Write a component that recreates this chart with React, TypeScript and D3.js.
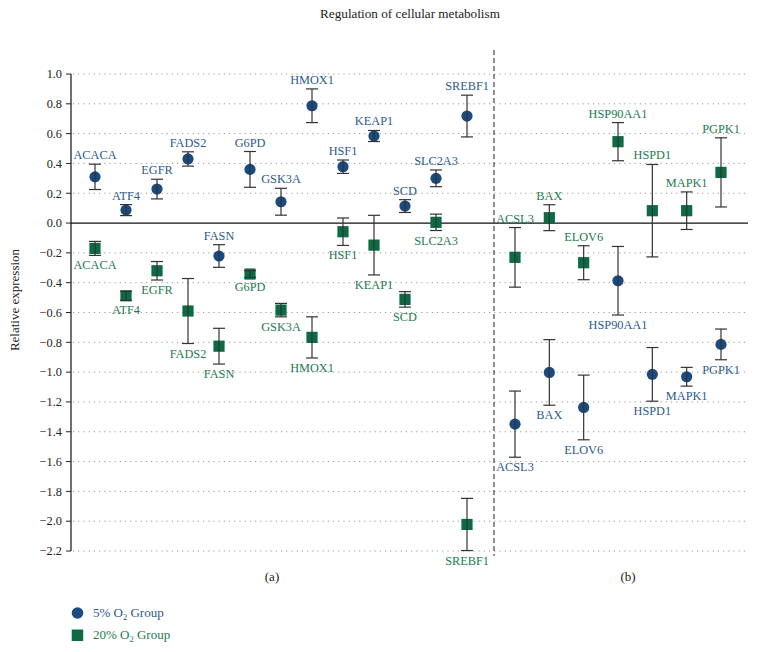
import React from "react";
import * as d3 from "d3";

const genesA = ["ACACA","ATF4","EGFR","FADS2","FASN","G6PD","GSK3A","HMOX1","HSF1","KEAP1","SCD","SLC2A3","SREBF1"];
const lowA = [0.31,0.087,0.228,0.43,-0.221,0.36,0.143,0.787,0.378,0.584,0.114,0.30,0.718];
const lowErrA = [0.085,0.037,0.066,0.048,0.076,0.12,0.09,0.113,0.045,0.037,0.043,0.056,0.14];
const highA = [-0.17,-0.488,-0.32,-0.59,-0.826,-0.342,-0.584,-0.767,-0.058,-0.148,-0.512,0.005,-2.022];
const highErrA = [0.047,0.03,0.062,0.218,0.12,0.023,0.045,0.138,0.092,0.2,0.052,0.055,0.175];

const genesB = ["ACSL3","BAX","ELOV6","HSP90AA1","HSPD1","MAPK1","PGPK1"];
const lowB = [-1.349,-1.002,-1.237,-0.387,-1.015,-1.031,-0.814];
const lowErrB = [0.222,0.22,0.217,0.23,0.18,0.063,0.103];
const highB = [-0.23,0.036,-0.266,0.546,0.083,0.083,0.34];
const highErrB = [0.2,0.087,0.114,0.128,0.31,0.126,0.232];

const yTicks = d3.range(-2.2, 1.0001, 0.2).map((v) => Math.round(v * 10) / 10);

const BLUE = "#1b4a7e";
const GREEN = "#0c6a44";
const BLUE_T = "#2b5a8c";
const GREEN_T = "#1d7a50";
const FONT = "'Liberation Serif', 'Times New Roman', serif";

export default function App() {
  const W = 759, H = 652;
  const axisX = 71, rightX = 748;
  const y = d3.scaleLinear().domain([-2.2, 1.0]).range([551, 74]);
  const xa = d3.scalePoint<string>().domain(genesA).range([95, 467]);
  const xb = d3.scalePoint<string>().domain(genesB).range([515, 721]);
  const fmt = (v: number) => (v < 0 ? "\u2212" : "") + Math.abs(v).toFixed(1);

  const renderPoint = (
    key: string, cx: number, v: number, e: number, kind: "c" | "s", labelAbove: boolean, name: string
  ) => {
    const top = y(v + e), bot = y(v - e), cy = y(v);
    const color = kind === "c" ? BLUE : GREEN;
    const tcolor = kind === "c" ? BLUE_T : GREEN_T;
    const ly = labelAbove ? top - 5 : bot + 14;
    return (
      <g key={key}>
        {kind === "c" ? (
          <circle cx={cx} cy={cy} r={5.6} fill={color} />
        ) : (
          <rect x={cx - 5.6} y={cy - 5.6} width={11.2} height={11.2} fill={color} />
        )}
        <line x1={cx} x2={cx} y1={top} y2={bot} stroke="#333" strokeWidth={1.2} />
        <line x1={cx - 6} x2={cx + 6} y1={top} y2={top} stroke="#333" strokeWidth={1.2} />
        <line x1={cx - 6} x2={cx + 6} y1={bot} y2={bot} stroke="#333" strokeWidth={1.2} />
        <text x={cx} y={ly} textAnchor="middle" fill={tcolor} fontSize={12.3} fontFamily={FONT}>{name}</text>
      </g>
    );
  };

  return (
    <svg width={W} height={H} style={{ display: "block", position: "absolute", left: 0, top: 0 }}>
      <rect width={W} height={H} fill="#fff" />
      <text x={410} y={18} textAnchor="middle" fontSize={13.2} fontFamily={FONT} fill="#222">Regulation of cellular metabolism</text>

      {yTicks.map((t) => (
        <g key={"t" + t}>
          {t !== 0 && (
            <line x1={axisX + 2} x2={rightX} y1={y(t)} y2={y(t)} stroke="#999" strokeWidth={1} strokeDasharray="1.2,4" />
          )}
          <line x1={axisX - 5} x2={axisX} y1={y(t)} y2={y(t)} stroke="#222" strokeWidth={1} />
          <text x={62} y={y(t)} dy="0.35em" textAnchor="end" fontSize={12.3} fontFamily={FONT} fill="#222">{fmt(t)}</text>
        </g>
      ))}
      <line x1={axisX} x2={rightX} y1={y(0)} y2={y(0)} stroke="#111" strokeWidth={1.2} />
      <line x1={axisX} x2={axisX} y1={y(1.0)} y2={y(-2.2)} stroke="#111" strokeWidth={1.2} />
      <line x1={494} x2={494} y1={50} y2={556} stroke="#333" strokeWidth={1.1} strokeDasharray="5,3" />

      <text transform="translate(19,300) rotate(-90)" textAnchor="middle" fontSize={13} fontFamily={FONT} fill="#222">Relative expression</text>

      {genesA.map((g, i) => renderPoint("ah" + g, xa(g)!, highA[i], highErrA[i], "s", false, g))}
      {genesA.map((g, i) => renderPoint("al" + g, xa(g)!, lowA[i], lowErrA[i], "c", true, g))}
      {genesB.map((g, i) => renderPoint("bh" + g, xb(g)!, highB[i], highErrB[i], "s", true, g))}
      {genesB.map((g, i) => renderPoint("bl" + g, xb(g)!, lowB[i], lowErrB[i], "c", false, g))}

      <text x={272} y={581} textAnchor="middle" fontSize={13} fontFamily={FONT} fill="#222">(a)</text>
      <text x={628} y={581} textAnchor="middle" fontSize={13} fontFamily={FONT} fill="#222">(b)</text>

      <circle cx={77.5} cy={613} r={5.8} fill={BLUE} />
      <text x={93} y={617} fontSize={13} fontFamily={FONT} fill={BLUE_T}>
        5% O<tspan fontSize={8.5} dy={3}>2</tspan><tspan dy={-3}> Group</tspan>
      </text>
      <rect x={71.7} y={629.5} width={11.5} height={11.5} fill={GREEN} />
      <text x={93} y={639} fontSize={13} fontFamily={FONT} fill={GREEN_T}>
        20% O<tspan fontSize={8.5} dy={3}>2</tspan><tspan dy={-3}> Group</tspan>
      </text>
    </svg>
  );
}
